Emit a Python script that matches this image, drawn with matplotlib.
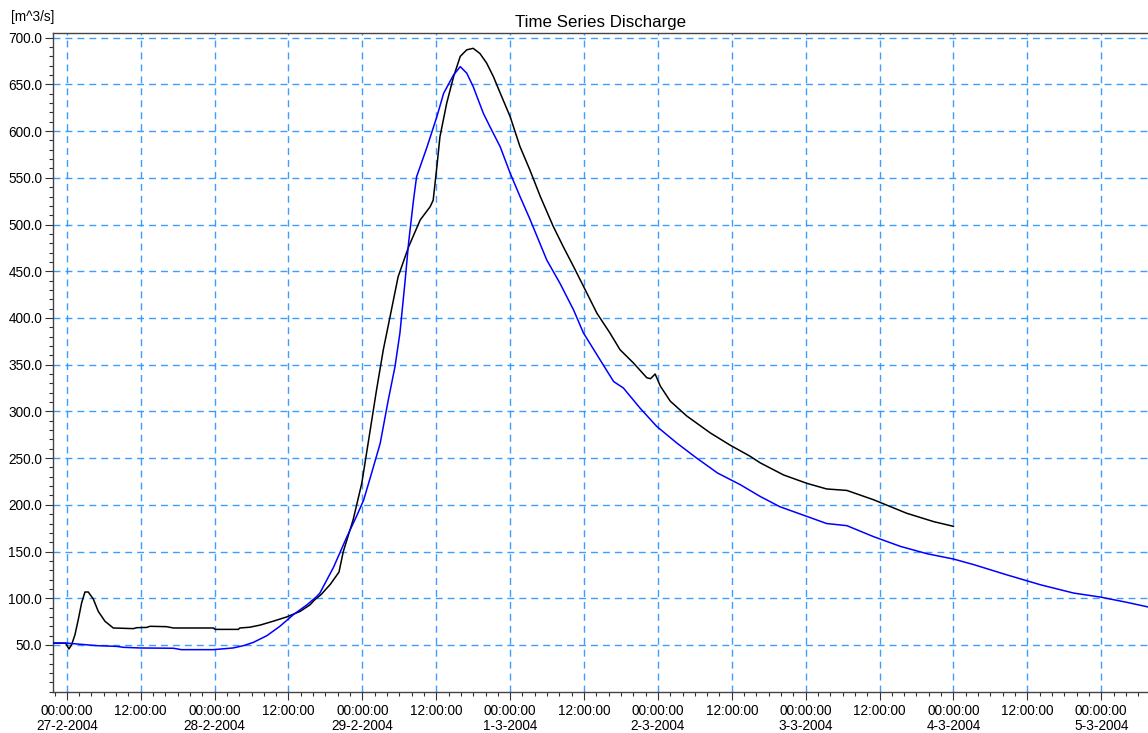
import matplotlib
matplotlib.use("Agg")
import matplotlib.pyplot as plt
import matplotlib.dates as mdates
from matplotlib.ticker import MultipleLocator, FixedLocator, FuncFormatter
import pandas as pd

plt.rcParams['font.family'] = ['Liberation Sans', 'DejaVu Sans']

# ---- data (hours since 27-2-2004 00:00) ----
start = "2004-02-27 00:00"
black_hours = [-2.2, -0.2, 0.34, 0.78, 1.32, 1.85, 2.4, 2.94, 3.48, 4.29, 5.1, 6.19, 7.54,
               10.8, 11.34, 12.97, 13.5, 16.2, 17.3, 23.8, 24.1, 27.85, 28.1, 29.7, 31.4,
               33.5, 35.7, 37.9, 39.5, 40.2, 41.3, 42.8, 44.2, 44.9, 46.5, 47.9, 49.2, 50.3,
               51.4, 52.5, 53.8, 55.5, 57.4, 59.0, 59.5, 60.1, 60.6, 61.7, 62.8, 63.9, 64.95,
               66.0, 67.1, 68.2, 69.3, 70.4, 72.0, 73.6, 75.2, 76.9, 79.0, 80.65, 82.3, 83.9,
               86.1, 88.2, 89.85, 92.0, 94.2, 94.8, 95.55, 96.4, 98.0, 100.7, 104.5, 107.7,
               110.97, 112.6, 116.4, 120.2, 123.4, 126.7, 131.0, 136.4, 140.8, 144.0]
black_values = [52, 52, 45.7, 50.4, 61, 77, 95, 106.7, 106.7, 99.3, 86, 75.4, 68.2,
                67.5, 68.5, 68.8, 70, 69.6, 68.2, 68.2, 66.7, 66.7, 68.2, 69, 71.3,
                75.4, 80, 86, 93, 98, 104, 115, 128, 150, 184, 223, 277, 323,
                366, 401.5, 444, 476, 505, 519, 526, 562, 594, 630, 658, 680, 687,
                688.6, 683, 672.6, 658, 640.5, 615.5, 583.4, 558.5, 530, 498, 476, 455, 434,
                405, 384, 366, 352, 336, 335, 340, 327, 311, 295, 277, 264,
                252, 245, 232, 223, 217, 215.4, 205.5, 191, 182, 177]

blue_hours = [-2.2, 0.0, 4.8, 8.1, 9.2, 11.9, 17.3, 18.6, 23.8, 27.0, 28.7, 30.3, 32.5,
              34.6, 36.8, 39.0, 40.6, 41.1, 43.3, 45.5, 47.0, 48.2, 49.5, 50.9, 52.2, 53.3,
              54.1, 54.9, 55.5, 56.3,
              56.8, 58.5, 60.1, 61.2, 62.8, 63.9, 64.95, 66.0, 67.65, 68.7, 70.4, 72.0,
              73.6, 75.2, 77.95, 80.1, 82.3, 83.9, 86.1, 88.8, 90.4, 93.1, 95.8, 99.1,
              102.3, 105.7, 109.4, 112.6, 115.8, 120.2, 123.4, 126.7, 131.0, 135.4, 139.7,
              144.0, 147.3, 152.7, 158.1, 163.5, 167.85, 172.2, 175.6]
blue_values = [52, 52, 49.3, 48.5, 47.5, 46.8, 46.5, 45, 45, 46.8, 49.3, 52.8, 60,
               70, 82.5, 93, 102, 105.6, 133, 166, 187, 205, 234, 266, 312, 348,
               384, 437, 480, 526,
               551, 583, 615.5, 640.5, 660, 669, 662, 647.6, 619, 605, 583, 555,
               530, 506, 462, 437, 408.6, 384, 360.6, 332, 325, 303.5, 284, 266,
               250, 234, 221.5, 209, 198, 187.6, 180, 177.7, 166, 155.5, 147.7,
               142, 136, 125, 114.5, 105.6, 101.3, 95.6, 90.7]

title = "Time Series Discharge"
unit_label = "[m^3/s]"
x_min_hours, x_max_hours = -2.2, 175.6
y_min, y_max = 0, 705

t0 = pd.Timestamp(start)
bt = t0 + pd.to_timedelta(black_hours, unit="h")
ut = t0 + pd.to_timedelta(blue_hours, unit="h")

W, H = 1148, 733
fig = plt.figure(figsize=(W / 100, H / 100), dpi=100)
ax = fig.add_axes([53.3 / W, 1 - 691.7 / H, (W - 53.3) / W, (691.7 - 33) / H])

grid_color = "#2A93FF"
ax.plot(bt, black_values, color="black", lw=1.1, zorder=3)
ax.plot(ut, blue_values, color="#0000FF", lw=1.1, zorder=4)

ax.set_xlim(t0 + pd.Timedelta(hours=x_min_hours), t0 + pd.Timedelta(hours=x_max_hours))
ax.set_ylim(y_min, y_max)

ax.xaxis.set_major_locator(mdates.HourLocator(byhour=[0, 12]))
ax.xaxis.set_minor_locator(mdates.HourLocator(interval=2))

def xfmt(v, pos):
    d = mdates.num2date(v)
    if d.hour == 0:
        return f"00:00:00\n{d.day}-{d.month}-{d.year}"
    return f"{d.hour:02d}:00:00"

ax.xaxis.set_major_formatter(FuncFormatter(xfmt))
ax.yaxis.set_major_locator(FixedLocator(list(range(50, 701, 50))))
ax.yaxis.set_minor_locator(MultipleLocator(10))
ax.yaxis.set_major_formatter(FuncFormatter(lambda v, p: f"{v:.1f}"))

ax.tick_params(axis="both", which="major", labelsize=9.8, length=6, width=0.8,
               color="#333333", direction="out")
ax.tick_params(axis="both", which="minor", length=3, width=0.8, color="#333333",
               direction="out")
ax.tick_params(axis="y", which="major", pad=2)
ax.tick_params(axis="x", which="major", pad=2.5)
for lab in ax.get_xticklabels():
    lab.set_linespacing(1.15)

ax.grid(True, which="major", color=grid_color, lw=1.0, linestyle=(0, (5, 3.6)), alpha=0.9)
ax.set_axisbelow(True)

for s in ["left", "bottom", "top"]:
    ax.spines[s].set_color("#444444")
    ax.spines[s].set_linewidth(1.0)
ax.spines["right"].set_visible(False)

ax.set_title(title, fontsize=12.2, pad=4)
fig.text(11.5 / W, 1 - 21.5 / H, unit_label, fontsize=9.8, va="baseline", ha="left")

fig.savefig("out.png", dpi=100)
